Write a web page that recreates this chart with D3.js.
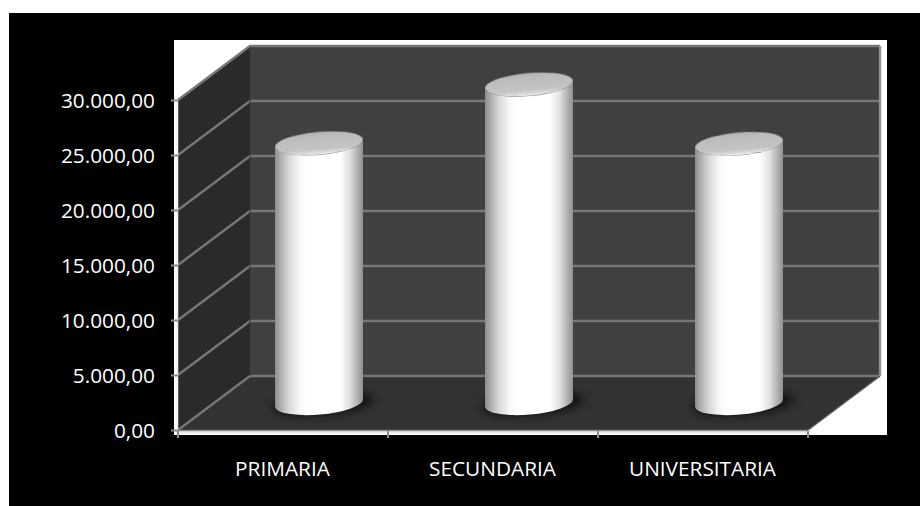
<!DOCTYPE html>
<html><head><meta charset="utf-8">
<script src="https://cdn.jsdelivr.net/npm/d3@7"></script>
<style>
html,body{margin:0;padding:0;background:#fff;overflow:hidden}
svg{display:block}
text{font-family:"Open Sans",Lato,sans-serif;fill:#fff}
</style></head><body><svg id="c" width="920" height="506"></svg>
<script>
const categories = ["PRIMARIA","SECUNDARIA","UNIVERSITARIA"];
const values = [23600,28950,23550];
const yTicks = [0,5000,10000,15000,20000,25000,30000];

const W=920,H=506;
const svg=d3.select("#c");
const defs=svg.append("defs");
const x=d3.scaleBand().domain(categories).range([178,808]).padding(0);
const y=d3.scaleLinear().domain([0,30000]).range([430,100]);
const depthX=72, depthY=-54;
const fmt=d3.formatLocale({decimal:",",thousands:".",grouping:[3],currency:["",""]}).format(",.2f");

function grad(id,stops,horizontal=true){
  const g=defs.append("linearGradient").attr("id",id)
    .attr("x1","0").attr("y1","0").attr("x2",horizontal?"1":"0").attr("y2",horizontal?"0":"1");
  stops.forEach(([o,c])=>g.append("stop").attr("offset",o).attr("stop-color",c));
}
grad("cyl",[[0,"#8c8c8c"],[0.05,"#a8a8a8"],[0.16,"#d8d8d8"],[0.28,"#f8f8f8"],[0.36,"#ffffff"],[0.74,"#ffffff"],[0.85,"#e0e0e0"],[0.96,"#a6a6a6"],[1,"#8f8f8f"]]);
grad("lid",[[0,"#b2b2b2"],[0.2,"#bcbcbc"],[0.74,"#c4c4c4"],[0.9,"#dcdcdc"],[1,"#f4f4f4"]],false);
const soft=defs.append("filter").attr("id","soft").attr("x","-30%").attr("y","-30%").attr("width","160%").attr("height","160%");
soft.append("feGaussianBlur").attr("stdDeviation",0.6);
const sh=defs.append("filter").attr("id","shadow").attr("x","-40%").attr("y","-60%").attr("width","180%").attr("height","220%");
sh.append("feGaussianBlur").attr("stdDeviation",5);

// frame
svg.append("rect").attr("x",9).attr("y",13).attr("width",W-9).attr("height",H-13).attr("fill","#000");
svg.append("rect").attr("x",174).attr("y",40).attr("width",713).attr("height",395).attr("fill","#fff");

const x0=x.range()[0], x1=x.range()[1], yB=y(0), yT=y(30000);
const pts=a=>a.map(p=>p.join(",")).join(" ");
const scene=svg.append("g").attr("filter","url(#soft)");

// walls
scene.append("polygon").attr("points",pts([[x0,yB],[x0,yT],[x0+depthX,yT+depthY],[x0+depthX,yB+depthY]])).attr("fill","#2b2b2b");
scene.append("polygon").attr("points",pts([[x0+depthX,yT+depthY],[x1+depthX,yT+depthY],[x1+depthX,yB+depthY],[x0+depthX,yB+depthY]])).attr("fill","#404040");
scene.append("polygon").attr("points",pts([[x0,yB],[x0+depthX,yB+depthY],[x1+depthX,yB+depthY],[x1,yB]])).attr("fill","#303030");

// gridlines
scene.selectAll(".g").data(yTicks).join("polyline").attr("class","g")
  .attr("points",d=>pts([[x0,y(d)],[x0+depthX,y(d)+depthY],[x1+depthX,y(d)+depthY]]))
  .attr("fill","none").attr("stroke","#777").attr("stroke-width",2.4);
scene.append("line").attr("x1",x1+depthX).attr("x2",x1+depthX).attr("y1",yT+depthY).attr("y2",yB+depthY).attr("stroke","#8f8f8f").attr("stroke-width",2.4);
scene.append("line").attr("x1",x0+depthX).attr("x2",x0+depthX).attr("y1",yT+depthY).attr("y2",yB+depthY).attr("stroke","#383838").attr("stroke-width",1);
scene.append("line").attr("x1",x1).attr("x2",x1+depthX).attr("y1",yB).attr("y2",yB+depthY).attr("stroke","#555").attr("stroke-width",1.5);
scene.append("line").attr("x1",x0).attr("x2",x0+depthX).attr("y1",yT).attr("y2",yT+depthY).attr("stroke","#777").attr("stroke-width",1.5);

// axis lines
scene.append("line").attr("x1",x0-1).attr("x2",x0-1).attr("y1",yT).attr("y2",yB+3).attr("stroke","#f4f4f4").attr("stroke-width",2.5);
scene.append("line").attr("x1",x0-2).attr("x2",x1).attr("y1",yB+2.5).attr("y2",yB+2.5).attr("stroke","#ececec").attr("stroke-width",2.5);
scene.append("line").attr("x1",x0).attr("x2",x1).attr("y1",yB+0.5).attr("y2",yB+0.5).attr("stroke","#8a8a8a").attr("stroke-width",1.5);

// cylinders
const rx=44, ry=11.5, tilt=-5;
const bars=svg.append("g").selectAll("g").data(categories.map((c,i)=>({c,v:values[i]}))).join("g")
  .attr("transform",d=>`translate(${x(d.c)+x.bandwidth()/2+depthX/2},${y(0)+depthY/2})`);
bars.append("ellipse").attr("cx",4).attr("cy",1).attr("rx",rx+7).attr("ry",ry).attr("transform",`rotate(${tilt})`)
  .attr("fill","#000").attr("opacity",0.65).attr("filter","url(#shadow)");
bars.append("path").attr("fill","url(#cyl)").attr("filter","url(#soft)").attr("d",d=>{
  const h=y(0)-y(d.v);
  const t=Math.tan(tilt*Math.PI/180)*rx;
  return `M${-rx},${-t-h} L${-rx},${-t} A${rx},${ry} ${tilt} 0 0 ${rx},${t} L${rx},${t-h} A${rx},${ry} ${tilt} 0 1 ${-rx},${-t-h} Z`;
});
bars.append("ellipse").attr("rx",rx).attr("ry",ry).attr("fill","url(#lid)").attr("filter","url(#soft)")
  .attr("transform",d=>`translate(0,${y(d.v)-y(0)}) rotate(${tilt})`);

// axes
const ax=svg.append("g").attr("transform",`translate(${x0},0)`).call(d3.axisLeft(y).tickValues(yTicks).tickFormat(fmt).tickSize(7).tickPadding(16));
ax.select(".domain").remove();
ax.selectAll("line").attr("stroke","#8a8a8a").attr("stroke-width",2);
ax.selectAll("text").style("font-size","20.8px").attr("fill","#fff").attr("dy","0.38em");

const xTickVals=[x0,...categories.map(c=>x(c)+x.bandwidth())];
svg.append("g").selectAll("line").data(xTickVals).join("line")
  .attr("x1",d=>d).attr("x2",d=>d).attr("y1",yB+1).attr("y2",yB+8).attr("stroke","#8a8a8a").attr("stroke-width",2);
svg.append("g").selectAll("text").data(categories).join("text")
  .attr("x",d=>x(d)+x.bandwidth()/2-0.5).attr("y",476).attr("text-anchor","middle")
  .style("font-size","20.8px").text(d=>d);
</script></body></html>
